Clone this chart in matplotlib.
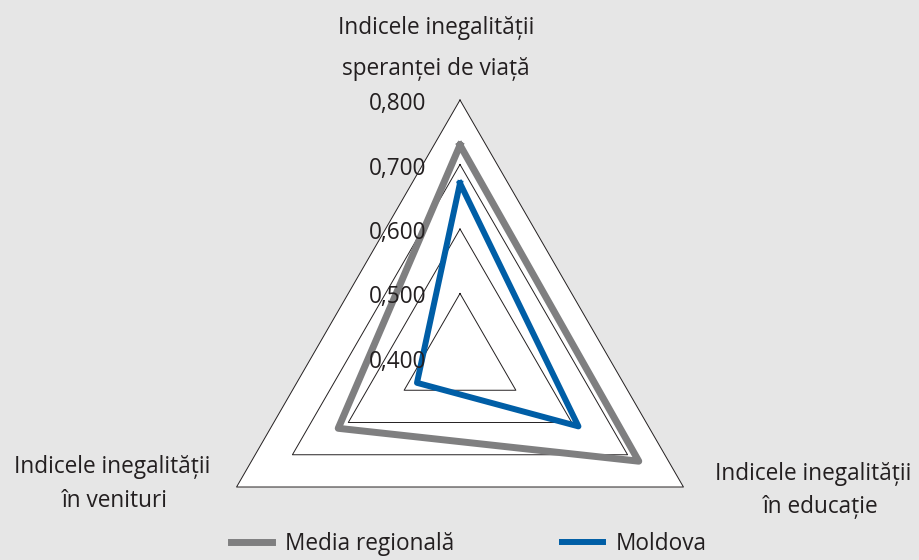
import numpy as np
import matplotlib
matplotlib.use("Agg")
import matplotlib.pyplot as plt

# date
axe = ["speranta", "educatie", "venituri"]
axe_linii = [
    ["Indicele inegalității", "speranței de viață"],
    ["Indicele inegalității", "în educație"],
    ["Indicele inegalității", "în venituri"],
]
media_regionala = [0.730, 0.720, 0.618]
moldova = [0.671, 0.612, 0.477]
niveluri = [0.4, 0.5, 0.6, 0.7, 0.8]
etichete_niveluri = ["0,400", "0,500", "0,600", "0,700", "0,800"]

plt.rcParams["font.family"] = ["Open Sans", "DejaVu Sans"]
FS = 16.3
px = FS * 100 / 72
text_col = "#231f20"

fig = plt.figure(figsize=(9.19, 5.6), dpi=100, facecolor="#e6e6e6")
W, H = 919, 560
cx, cy, R = 460, 358, 258
ax = fig.add_axes([(cx - R) / W, (H - cy - R) / H, 2 * R / W, 2 * R / H],
                  projection="polar")
ax.set_theta_offset(np.pi / 2)
ax.set_theta_direction(-1)
ax.set_ylim(0.4, 0.8)
ax.patch.set_alpha(0)
ax.spines["polar"].set_visible(False)
ax.grid(False)
ax.set_xticks([])
ax.set_yticks([])

theta = np.arange(len(axe)) * 2 * np.pi / len(axe)
th_closed = np.append(theta, theta[0])

# fundal alb + linii de grila triunghiulare
ax.fill(theta, [0.8] * 3, facecolor="white", edgecolor="none", zorder=1, clip_on=False)
for v in niveluri[1:]:
    ax.plot(th_closed, [v] * 4, color="#231f20", lw=0.7, zorder=2, clip_on=False)

ax.plot(th_closed, media_regionala + media_regionala[:1], color="#7f7f80", lw=5.0,
        zorder=3, label="Media regională", clip_on=False)
ax.plot(th_closed, moldova + moldova[:1], color="#005ea6", lw=4.3,
        zorder=4, label="Moldova", clip_on=False)

for v, lab in zip(niveluri, etichete_niveluri):
    ax.annotate(lab, xy=(0, v), xytext=(-34, -4), textcoords="offset pixels",
                ha="right", va="center", fontsize=FS, color=text_col, zorder=5,
                annotation_clip=False)

offsets = [
    [(-24, 72), (-24, 31)],
    [(130, 13), (137, -20)],
    [(-124, 20), (-122, -14)],
]
for t, linii, offs in zip(theta, axe_linii, offsets):
    for linie, off in zip(linii, offs):
        ax.annotate(linie, xy=(t, 0.8), xytext=off, textcoords="offset pixels",
                    ha="center", va="center", fontsize=FS, color=text_col,
                    annotation_clip=False)

fig.legend(loc="center", bbox_to_anchor=(469 / W, 1 - 544 / H), ncol=2,
           frameon=False, fontsize=FS, handlelength=41 / px,
           handletextpad=13 / px, columnspacing=107 / px,
           labelcolor=text_col, borderpad=0.1)

fig.savefig("out.png", dpi=100, facecolor=fig.get_facecolor())
